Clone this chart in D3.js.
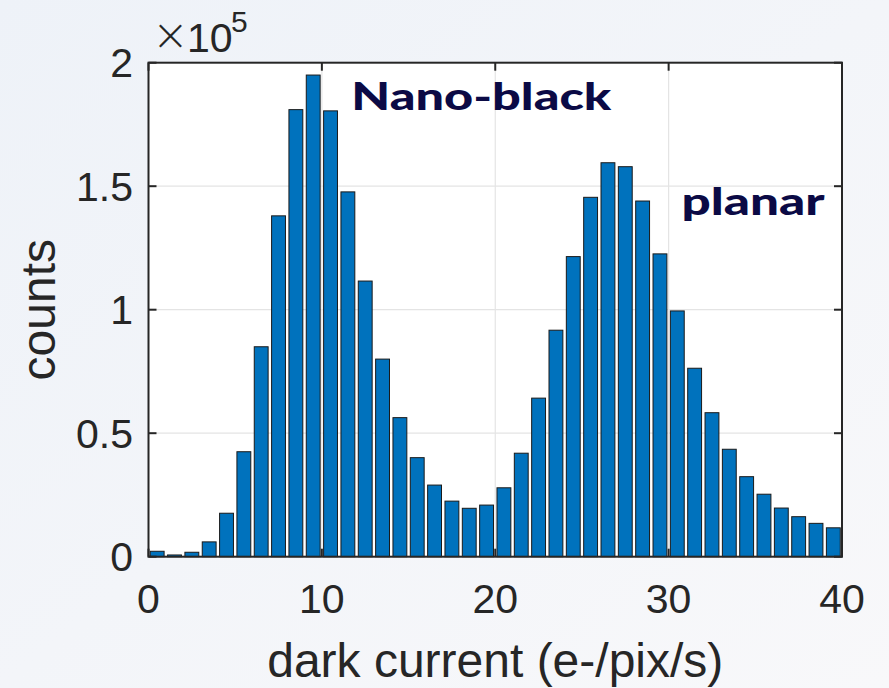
<!DOCTYPE html>
<html>
<head>
<meta charset="utf-8">
<script src="https://cdn.jsdelivr.net/npm/d3@7"></script>
<style>
  html, body { margin: 0; padding: 0; }
  body { width: 889px; height: 688px; overflow: hidden; }
</style>
</head>
<body>
<script>

// bin left edges (e-/pix/s), one per bar, bin width 1
var binStarts = d3.range(0, 40);
// counts per bin
var counts = [
  2200, 700, 1800, 6000, 17600, 42500, 85000, 138000, 181000, 195000,
  180500, 147700, 111600, 80000, 56300, 40100, 29000, 22500, 19600, 20900,
  27900, 41900, 64200, 91700, 121500, 145500, 159500, 157900, 144000, 122600,
  99500, 76300, 58300, 43500, 32400, 25300, 19700, 16200, 13500, 11700
];
var xTicks = [0, 10, 20, 30, 40];
var yTicks = [0, 50000, 100000, 150000, 200000];
var labels = [
  { text: "Nano-black", x: 11.7, y: 181000, width: 260 },
  { text: "planar", x: 30.75, y: 138500, width: 143 }
];

var W = 889, H = 688;
var pLeft = 148.5, pRight = 842, pTop = 62.7, pBottom = 556.7;

var svg = d3.select("body").append("svg")
    .attr("width", W).attr("height", H)
    .style("display", "block");

var defs = svg.append("defs");
var grad = defs.append("linearGradient").attr("id", "bg")
    .attr("x1", "0").attr("y1", "0").attr("x2", "1").attr("y2", "1");
grad.append("stop").attr("offset", "0").attr("stop-color", "#eef2f8");
grad.append("stop").attr("offset", "1").attr("stop-color", "#f8f8fa");
svg.append("rect").attr("width", W).attr("height", H).attr("fill", "url(#bg)");

var x = d3.scaleLinear().domain([0, 40]).range([pLeft, pRight]);
var y = d3.scaleLinear().domain([0, 200000]).range([pBottom, pTop]);

svg.append("rect")
    .attr("x", pLeft).attr("y", pTop)
    .attr("width", pRight - pLeft).attr("height", pBottom - pTop)
    .attr("fill", "#fff");

// grid
var grid = svg.append("g").attr("stroke", "#e4e4e4").attr("stroke-width", 1.2);
grid.selectAll("line.gx").data(xTicks.slice(1, -1)).enter().append("line")
    .attr("x1", d => x(d)).attr("x2", d => x(d))
    .attr("y1", pTop).attr("y2", pBottom);
grid.selectAll("line.gy").data(yTicks.slice(1, -1)).enter().append("line")
    .attr("y1", d => y(d)).attr("y2", d => y(d))
    .attr("x1", pLeft).attr("x2", pRight);

// bars
svg.append("g").selectAll("rect").data(binStarts).enter().append("rect")
    .attr("x", d => x(d + 0.1))
    .attr("width", x(0.8) - x(0))
    .attr("y", (d, i) => y(counts[i]))
    .attr("height", (d, i) => pBottom - y(counts[i]))
    .attr("fill", "#0072bd")
    .attr("stroke", "#1a1a1a")
    .attr("stroke-width", 1);

// axes: box with inward ticks on all sides
var axisColor = "#262626";
var tickLen = 8;
var ax = svg.append("g").attr("stroke", axisColor).attr("stroke-width", 2);
ax.selectAll("line.xb").data(xTicks).enter().append("line")
    .attr("x1", d => x(d)).attr("x2", d => x(d))
    .attr("y1", pBottom).attr("y2", pBottom - tickLen);
ax.selectAll("line.xt").data(xTicks).enter().append("line")
    .attr("x1", d => x(d)).attr("x2", d => x(d))
    .attr("y1", pTop).attr("y2", pTop + tickLen);
ax.selectAll("line.yl").data(yTicks).enter().append("line")
    .attr("y1", d => y(d)).attr("y2", d => y(d))
    .attr("x1", pLeft).attr("x2", pLeft + tickLen);
ax.selectAll("line.yr").data(yTicks).enter().append("line")
    .attr("y1", d => y(d)).attr("y2", d => y(d))
    .attr("x1", pRight).attr("x2", pRight - tickLen);
ax.append("rect")
    .attr("x", pLeft).attr("y", pTop)
    .attr("width", pRight - pLeft).attr("height", pBottom - pTop)
    .attr("fill", "none");

var font = "'Liberation Sans', Arial, Helvetica, sans-serif";

svg.append("g").selectAll("text").data(xTicks).enter().append("text")
    .attr("x", d => x(d)).attr("y", 613)
    .attr("text-anchor", "middle")
    .attr("font-family", font).attr("font-size", 41).attr("fill", axisColor)
    .text(d => d);

svg.append("g").selectAll("text").data(yTicks).enter().append("text")
    .attr("x", 133).attr("y", d => y(d) + 14.5)
    .attr("text-anchor", "end")
    .attr("font-family", font).attr("font-size", 41).attr("fill", axisColor)
    .text(d => d / 1e5);

// exponent label, x10^5
var ex = svg.append("g")
    .attr("font-family", font).attr("fill", axisColor);
ex.append("text").attr("x", 152).attr("y", 50)
    .attr("font-size", 44).attr("font-family", "'DejaVu Sans', sans-serif")
    .attr("font-weight", 200).text("\u00d7");
ex.append("text").attr("x", 187).attr("y", 52)
    .attr("font-size", 41).text("10");
ex.append("text").attr("x", 231).attr("y", 32)
    .attr("font-size", 30).text("5");

svg.append("text")
    .attr("x", (pLeft + pRight) / 2).attr("y", 677)
    .attr("text-anchor", "middle")
    .attr("font-family", font).attr("font-size", 48).attr("fill", axisColor)
    .text("dark current (e-/pix/s)");

svg.append("text")
    .attr("transform", "translate(55," + ((pTop + pBottom) / 2) + ") rotate(-90)")
    .attr("text-anchor", "middle")
    .attr("font-family", font).attr("font-size", 48).attr("fill", axisColor)
    .text("counts");

// annotations
svg.append("g").selectAll("text").data(labels).enter().append("text")
    .attr("x", d => x(d.x)).attr("y", d => y(d.y))
    .attr("font-family", "Lato, 'Open Sans', sans-serif")
    .attr("font-weight", 900).attr("font-size", 38)
    .attr("fill", "#0b0a45")
    .attr("textLength", d => d.width)
    .attr("lengthAdjust", "spacingAndGlyphs")
    .text(d => d.text);

</script>
</body>
</html>
